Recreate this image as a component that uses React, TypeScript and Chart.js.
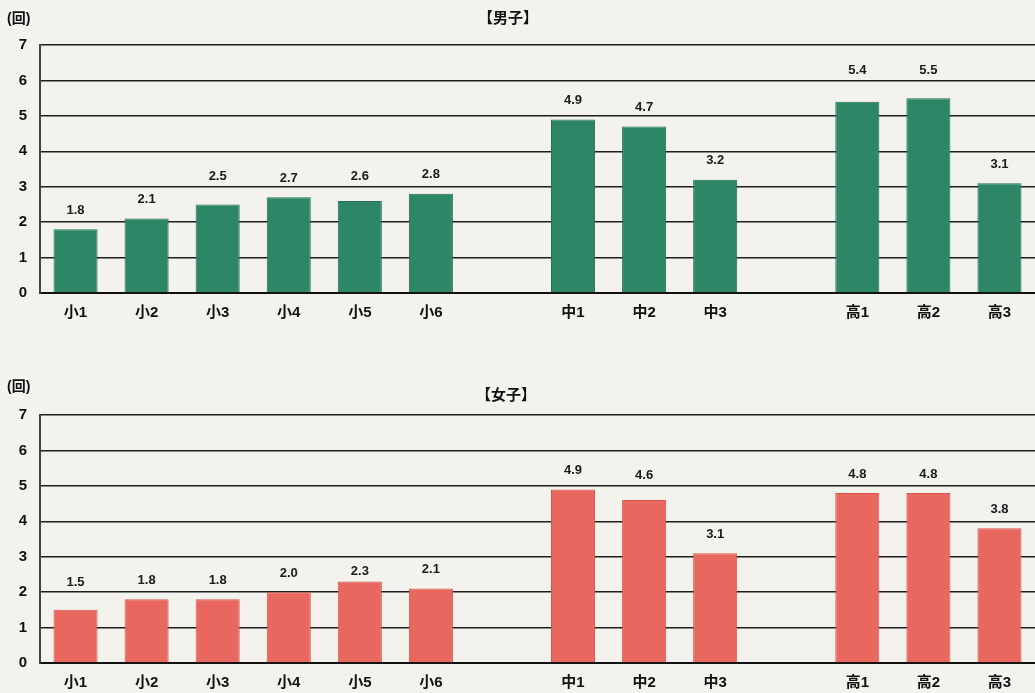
import React, { useEffect, useRef } from "react";
import { Chart, registerables } from "chart.js";

Chart.register(...registerables);

const categories = ["小1", "小2", "小3", "小4", "小5", "小6", "", "中1", "中2", "中3", "", "高1", "高2", "高3"];
const boysValues: (number | null)[] = [1.8, 2.1, 2.5, 2.7, 2.6, 2.8, null, 4.9, 4.7, 3.2, null, 5.4, 5.5, 3.1];
const girlsValues: (number | null)[] = [1.5, 1.8, 1.8, 2.0, 2.3, 2.1, null, 4.9, 4.6, 3.1, null, 4.8, 4.8, 3.8];
const yTicks = [0, 1, 2, 3, 4, 5, 6, 7];
const boysTitle = "【男子】";
const girlsTitle = "【女子】";
const unitLabel = "(回)";

const FONT = "'Liberation Sans', 'Noto Sans CJK JP', sans-serif";

const valueLabels = {
  id: "valueLabels",
  afterDatasetsDraw(chart: any) {
    const ctx = chart.ctx;
    const meta = chart.getDatasetMeta(0);
    const data = chart.data.datasets[0].data;
    const yScale = chart.scales.y;
    const gridYs = yTicks.map((t) => yScale.getPixelForValue(t));
    ctx.save();
    ctx.font = `bold 13px ${FONT}`;
    ctx.fillStyle = "#1a1a1a";
    ctx.textAlign = "center";
    ctx.textBaseline = "middle";
    meta.data.forEach((bar: any, i: number) => {
      const v = data[i];
      if (v === null || v === undefined) return;
      let y = bar.y - 19;
      for (const g of gridYs) {
        const d = y - g;
        if (Math.abs(d) < 7) {
          y = d > 4.5 ? bar.y - 10 : g - 10;
          break;
        }
      }
      ctx.fillText(Number(v).toFixed(1), bar.x, y);
    });
    ctx.restore();
  },
};

function BarPanel({ values, color, border }: { values: (number | null)[]; color: string; border: string }) {
  const ref = useRef<HTMLCanvasElement>(null);
  useEffect(() => {
    if (!ref.current) return;
    const chart = new Chart(ref.current, {
      type: "bar",
      data: {
        labels: categories,
        datasets: [
          {
            data: values as any,
            backgroundColor: color,
            borderColor: border,
            borderWidth: 1,
            barPercentage: 0.62,
            categoryPercentage: 1,
          },
        ],
      },
      options: {
        responsive: false,
        animation: false,
        devicePixelRatio: 1,
        layout: { padding: { top: 45, left: 0, right: 0, bottom: 0 } },
        plugins: { legend: { display: false }, tooltip: { enabled: false } },
        scales: {
          x: {
            grid: { display: false, drawTicks: false },
            border: { display: true, color: "#111", width: 2 },
            ticks: {
              font: { family: FONT, size: 15, weight: "bold" },
              color: "#111",
              padding: 11,
              autoSkip: false,
              maxRotation: 0,
            },
            afterFit: (s: any) => {
              s.height = 37;
            },
          },
          y: {
            min: 0,
            max: 7,
            afterBuildTicks: (s: any) => {
              s.ticks = yTicks.map((v) => ({ value: v }));
            },
            grid: { color: "#1e1e1e", lineWidth: 1.4, drawTicks: false },
            border: { display: true, color: "#444", width: 2 },
            ticks: {
              font: { family: FONT, size: 15, weight: "bold" },
              color: "#111",
              padding: 13,
            },
            afterFit: (s: any) => {
              s.width = 40;
            },
          },
        },
      },
      plugins: [valueLabels],
    });
    return () => chart.destroy();
  }, [values, color, border]);
  return <canvas ref={ref} width={1035} height={330} style={{ display: "block" }} />;
}

export default function App() {
  const textStyle: React.CSSProperties = {
    position: "absolute",
    fontFamily: FONT,
    fontWeight: "bold",
    color: "#111",
    whiteSpace: "nowrap",
  };
  return (
    <div
      style={{
        position: "fixed",
        left: 0,
        top: 0,
        width: 1035,
        height: 693,
        background: "#f3f2ec",
        overflow: "hidden",
      }}
    >
      <div style={{ position: "absolute", left: 0, top: 0 }}>
        <BarPanel values={boysValues} color="#2d8766" border="#22705a" />
      </div>
      <div style={{ position: "absolute", left: 0, top: 370 }}>
        <BarPanel values={girlsValues} color="#e8675e" border="#d9544b" />
      </div>
      <div style={{ ...textStyle, left: 7, top: 7, fontSize: 14 }}>{unitLabel}</div>
      <div style={{ ...textStyle, left: 478, top: 6, fontSize: 15 }}>{boysTitle}</div>
      <div style={{ ...textStyle, left: 7, top: 375, fontSize: 14 }}>{unitLabel}</div>
      <div style={{ ...textStyle, left: 476, top: 383, fontSize: 15 }}>{girlsTitle}</div>
    </div>
  );
}
